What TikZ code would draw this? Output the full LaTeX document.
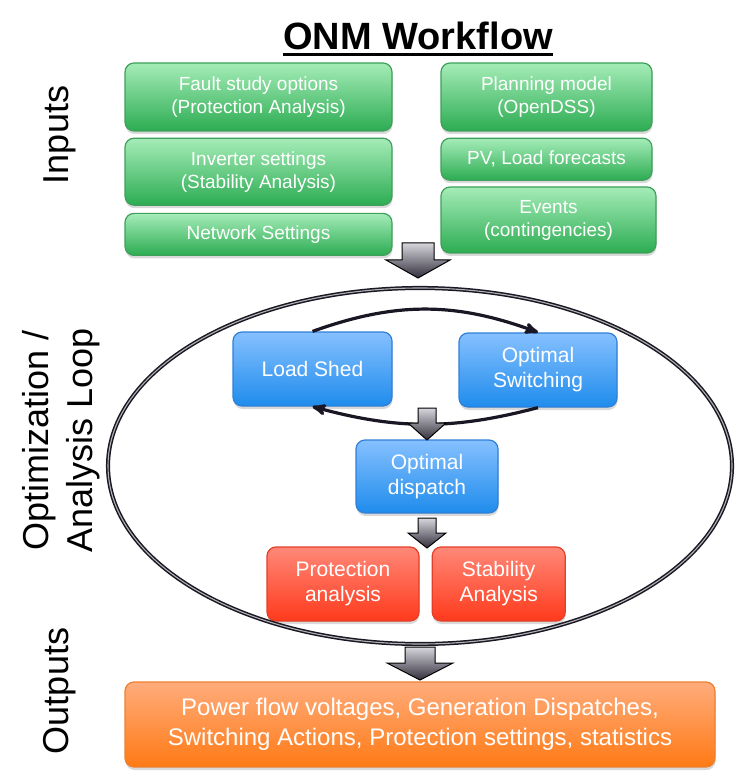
\documentclass[tikz,border=0pt]{standalone}
\usepackage{fontspec}
\setmainfont{Liberation Sans}
\usepackage{tikz}
\usetikzlibrary{arrows,positioning,shadows}

\definecolor{greentop}{RGB}{165,236,184}
\definecolor{greenbot}{RGB}{44,172,82}
\definecolor{greenline}{RGB}{62,160,90}
\definecolor{bluetop}{RGB}{134,192,255}
\definecolor{bluebot}{RGB}{30,140,236}
\definecolor{blueline}{RGB}{48,128,216}
\definecolor{redtop}{RGB}{255,136,120}
\definecolor{redbot}{RGB}{255,58,28}
\definecolor{redline}{RGB}{228,62,40}
\definecolor{orangetop}{RGB}{255,172,124}
\definecolor{orangebot}{RGB}{255,122,20}
\definecolor{orangeline}{RGB}{238,128,48}
\definecolor{arrowtop}{RGB}{214,214,220}
\definecolor{arrowbot}{RGB}{50,46,60}
\definecolor{loopline}{RGB}{26,22,36}

\begin{document}
\begin{tikzpicture}[x=1pt,y=-1pt,>=stealth',thick,
  box/.style={rounded corners=9pt,align=center,text=white,line width=1.2pt,
    drop shadow={shadow xshift=0.5pt,shadow yshift=-3pt,opacity=0.3}},
  input node/.style={box,draw=greenline,top color=greentop,bottom color=greenbot,
    font=\fontsize{19}{23}\selectfont},
  opt node/.style={box,draw=blueline,top color=bluetop,bottom color=bluebot,
    minimum height=74pt,font=\fontsize{21}{25}\selectfont},
  check node/.style={box,draw=redline,top color=redtop,bottom color=redbot,
    minimum height=74pt,font=\fontsize{21}{25}\selectfont},
  output node/.style={box,draw=orangeline,top color=orangetop,bottom color=orangebot,
    font=\fontsize{24}{30}\selectfont},
  side label/.style={rotate=90,align=center,font=\fontsize{36}{44}\selectfont},
  cycle arrow/.style={->,line width=3.2pt,loopline},
  block arrow/.style={draw=black,line width=1pt,top color=arrowtop,bottom color=arrowbot}]
  \useasboundingbox (0,0) rectangle (741,783);

  % title and side labels
  \node[inner sep=0pt,anchor=base,font=\fontsize{38}{44}\selectfont\bfseries] (title) at (418,50) {ONM Workflow};
  \draw[line width=3pt] ([yshift=-5pt]title.base west) -- ([yshift=-5pt]title.base east);
  \node[side label] (inlabel)  at (60,135) {Inputs};
  \node[side label] (optlabel) at (61,440) {Optimization /\\Analysis Loop};
  \node[side label] (outlabel) at (60,691) {Outputs};

  % inputs
  \node[input node,minimum width=267pt,minimum height=68pt] (fault) at (258.5,97) {Fault study options\\(Protection Analysis)};
  \node[input node,minimum width=267pt,minimum height=67pt] (inv) [below=6pt of fault] {Inverter settings\\(Stability Analysis)};
  \node[input node,minimum width=267pt,minimum height=42pt] (net) [below=7pt of inv] {Network Settings};
  \node[input node,minimum width=211pt,minimum height=68pt] (plan) at (546.5,97) {Planning model\\(OpenDSS)};
  \node[input node,minimum width=211pt,minimum height=42pt] (pv) [below=6pt of plan] {PV, Load forecasts};
  \node[input node,minimum width=215pt,minimum height=66pt] (events) at (548.5,220) {Events\\(contingencies)};

  % loop
  \node[opt node,minimum width=159pt] (shed) at (312.5,369) {Load Shed};
  \node[opt node,minimum width=158pt] (switch) at (538,370) {Optimal\\Switching};
  \node[opt node,minimum width=142pt,minimum height=73pt] (dispatch) at (427,476.5) {Optimal\\dispatch};
  \node[check node,minimum width=152pt] (prot) at (343,584) {Protection\\analysis};
  \node[check node,minimum width=133pt] (stab) [right=12pt of prot] {Stability\\Analysis};

  % outputs
  \node[output node,minimum width=590pt,minimum height=85pt] (out) at (420,724.5) {Power flow voltages, Generation Dispatches,\\Switching Actions, Protection settings, statistics};

  \draw[draw=loopline,line width=1.5pt,double=gray!60,double distance=1.1pt] (420,466) ellipse [x radius=312, y radius=178];

  \path[cycle arrow]
    (shed.north) edge [bend left=20] (switch.north)
    (switch.south) edge [bend left=15] (shed.south);

  % block arrows
  \foreach \cx/\top/\len/\sw/\hw/\tip in {418/243/35/16/32/18, 427/408/32/9/19/17,
      427/518/30/9/19/15, 420/647/33/15/33/17}
    \draw[block arrow] ({\cx-\sw},\top) -- ({\cx+\sw},\top) -- ({\cx+\sw},{\top+\len-\tip})
      -- ({\cx+\hw},{\top+\len-\tip}) -- (\cx,{\top+\len}) -- ({\cx-\hw},{\top+\len-\tip})
      -- ({\cx-\sw},{\top+\len-\tip}) -- cycle;
\end{tikzpicture}
\end{document}
